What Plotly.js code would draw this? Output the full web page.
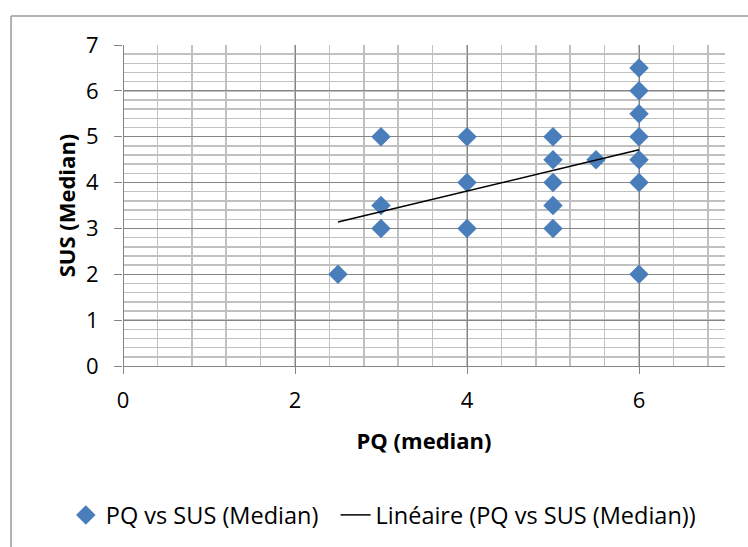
<!DOCTYPE html>
<html>
<head>
<meta charset="utf-8">
<script src="https://cdn.plot.ly/plotly-3.0.1.min.js"></script>
<style>html,body{margin:0;padding:0;background:#fff;}#chart{width:748px;height:547px;}</style>
</head>
<body>
<div id="chart"></div>
<script>
const pqMedian = [2.5, 3, 3, 3, 4, 4, 4, 5, 5, 5, 5, 5, 5.5, 6, 6, 6, 6, 6, 6, 6];
const susMedian = [2, 5, 3.5, 3, 5, 4, 3, 5, 4.5, 4, 3.5, 3, 4.5, 6.5, 6, 5.5, 5, 4.5, 4, 2];
const seriesName = "PQ vs SUS (Median)";
const trendName = "Linéaire (PQ vs SUS (Median))";
const xTicks = [0, 2, 4, 6];
const yTicks = [0, 1, 2, 3, 4, 5, 6, 7];

// least-squares trend line computed from the data
const n = pqMedian.length;
const mx = pqMedian.reduce((a, b) => a + b, 0) / n;
const my = susMedian.reduce((a, b) => a + b, 0) / n;
let sxy = 0, sxx = 0;
for (let i = 0; i < n; i++) { sxy += (pqMedian[i] - mx) * (susMedian[i] - my); sxx += (pqMedian[i] - mx) ** 2; }
const slope = sxy / sxx, icpt = my - slope * mx;
const xmin = Math.min(...pqMedian), xmax = Math.max(...pqMedian);
const trendX = [xmin, xmax];
const trendY = trendX.map(x => icpt + slope * x);

const font = "'Open Sans', sans-serif";
const data = [
  {x: pqMedian, y: susMedian, type: "scatter", mode: "markers", name: seriesName + "\u00A0\u00A0",
   marker: {symbol: "diamond", size: 15, color: "#4A7EBB"}},
  {x: trendX, y: trendY, type: "scatter", mode: "lines", name: trendName,
   line: {color: "#000", width: 1.5}}
];
const layout = {
  width: 748, height: 547,
  margin: {l: 123, r: 23, t: 45, b: 180},
  paper_bgcolor: "#fff", plot_bgcolor: "#fff",
  font: {family: font, size: 22, color: "#000"},
  showlegend: true,
  legend: {orientation: "h", x: -0.095, y: -0.46, yanchor: "middle", xanchor: "left",
           font: {family: font, size: 23.5}, itemwidth: 30, tracegroupgap: 0},
  xaxis: {range: [0, 7], tickvals: xTicks, ticktext: xTicks.map(String),
          showline: false, zeroline: true, zerolinecolor: "#868686", zerolinewidth: 1,
          showgrid: true, gridcolor: "#868686", gridwidth: 1,
          ticks: "outside", ticklen: 7, tickcolor: "#868686", ticklabelstandoff: 8,
          minor: {dtick: 0.4, tick0: 0, showgrid: true, gridcolor: "#C0C0C0", gridwidth: 1.5},
          title: {text: "<b>PQ (median)</b>", font: {family: font, size: 22}, standoff: 20},
          fixedrange: true},
  yaxis: {range: [0, 7], tickvals: yTicks, ticktext: yTicks.map(String),
          showline: false, zeroline: true, zerolinecolor: "#868686", zerolinewidth: 1,
          showgrid: true, gridcolor: "#868686", gridwidth: 1,
          ticks: "outside", ticklen: 8, tickcolor: "#868686", ticklabelstandoff: 11,
          minor: {dtick: 0.2, tick0: 0, showgrid: true, gridcolor: "#C0C0C0", gridwidth: 1.5},
          title: {text: "<b>SUS (Median)</b>", font: {family: font, size: 22}, standoff: 4},
          fixedrange: true},
  shapes: [
    {type: "line", xref: "x", yref: "paper", x0: 0, x1: 0, y0: 0, y1: 1, line: {color: "#868686", width: 1.5}, layer: "above"},
    {type: "line", xref: "paper", yref: "paper", x0: -0.186, x1: -0.186, y0: 1.09, y1: -0.6, line: {color: "#999", width: 1.5}},
    {type: "line", xref: "paper", yref: "paper", x0: -0.186, x1: 1.05, y0: 1.09, y1: 1.09, line: {color: "#999", width: 1.5}}
  ]
};
Plotly.newPlot("chart", data, layout, {displayModeBar: false, staticPlot: true});
</script>
</body>
</html>
